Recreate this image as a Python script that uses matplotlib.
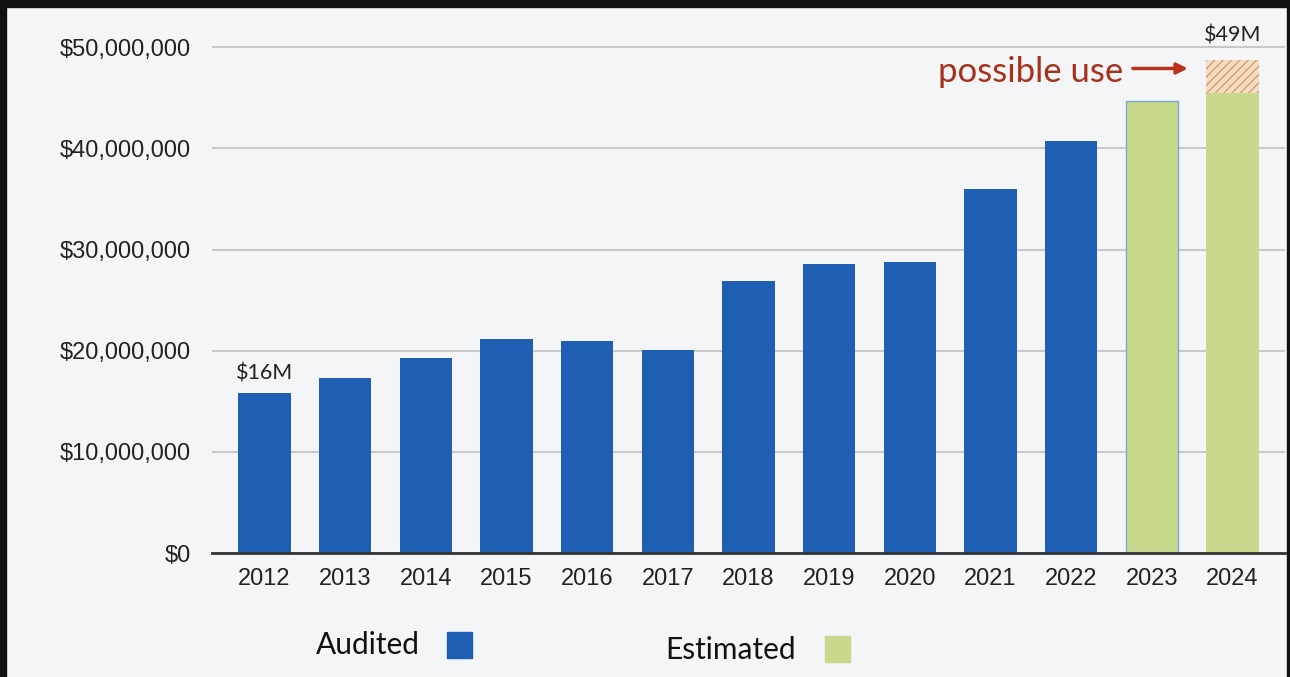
import numpy as np
from matplotlib import pyplot as plt
from matplotlib.patches import Rectangle

# data
years = ['2012', '2013', '2014', '2015', '2016', '2017', '2018',
         '2019', '2020', '2021', '2022', '2023', '2024']
audited = [15.8e6, 17.3e6, 19.3e6, 21.2e6, 21.0e6, 20.1e6, 26.9e6,
           28.6e6, 28.8e6, 36.0e6, 40.7e6, 0, 0]
estimated = [0, 0, 0, 0, 0, 0, 0, 0, 0, 0, 0, 44.7e6, 45.5e6]
possible = [0, 0, 0, 0, 0, 0, 0, 0, 0, 0, 0, 0, 3.2e6]
yticks = [0, 10e6, 20e6, 30e6, 40e6, 50e6]

blue = '#1f5fb3'
green = '#c6d98c'
bg = '#f3f5f7'

fig = plt.figure(figsize=(12.9, 6.77), dpi=100, facecolor=bg)
ax = fig.add_axes([212/1290, 124/677, 1073/1290, 526/677])
ax.set_facecolor(bg)

x = np.arange(len(years))
ax.bar(x, audited, width=0.65, color=blue, zorder=3)
ax.bar(x, estimated, width=0.65, color=green, zorder=3)
plt.rcParams['hatch.linewidth'] = 0.8
ax.bar(x, possible, width=0.65, bottom=estimated, facecolor='#f2dcc4',
       edgecolor='#d89050', hatch='////', linewidth=0, zorder=3)
# thin blue rim on the 2023 estimate
ax.bar(x[11], estimated[11], width=0.65, facecolor='none',
       edgecolor='#7fa5db', linewidth=1.0, zorder=4)

ax.set_xlim(-0.65, len(years) - 0.35)
ax.set_ylim(0, 52e6)
ax.set_yticks(yticks)
ax.set_yticklabels(['${:,.0f}'.format(v) for v in yticks])
ax.set_xticks(x)
ax.set_xticklabels(years)
ax.tick_params(length=0, labelsize=17, labelcolor='#222222')
ax.tick_params(axis='y', pad=15)
ax.tick_params(axis='x', pad=11)
for lab in ax.get_xticklabels() + ax.get_yticklabels():
    lab.set_family('Liberation Sans')

ax.grid(axis='y', color='#c6c8ca', linewidth=1.5, zorder=0)
for s in ['top', 'right', 'left']:
    ax.spines[s].set_visible(False)
ax.spines['bottom'].set_color('#333333')
ax.spines['bottom'].set_linewidth(2)
ax.spines['bottom'].set_zorder(5)

# labels on the bars
ax.annotate('$16M', (x[0], audited[0]), xytext=(0, 7), textcoords='offset points',
            ha='center', va='bottom', fontsize=15.5, family='Lato', color='#222222')
ax.annotate('$49M', (x[12], estimated[12] + possible[12]), xytext=(0, 11),
            textcoords='offset points', ha='center', va='bottom', fontsize=15.5,
            family='Lato', color='#222222')
ax.annotate('', xy=(x[12] - 0.52, 47.9e6), xytext=(x[12] - 1.27, 47.9e6),
            arrowprops=dict(arrowstyle='-|>', color='#b8321e', lw=2.5,
                            mutation_scale=16))
ax.text(x[12] - 1.36, 47.6e6, 'possible use', ha='right', va='center',
        fontsize=25, family='Lato', color='#a8301c')

# legend drawn as text + squares
fig.text(316/1290, 1 - 645/677, 'Audited', ha='left', va='center',
         fontsize=21.5, family='Lato', color='#111111')
fig.patches.append(Rectangle((447/1290, 1 - 658/677), 25/1290, 26/677,
                             transform=fig.transFigure, color=blue))
fig.text(665/1290, 1 - 650/677, 'Estimated', ha='left', va='center',
         fontsize=21.5, family='Lato', color='#111111')
fig.patches.append(Rectangle((825/1290, 1 - 662/677), 25/1290, 26/677,
                             transform=fig.transFigure, color=green))

# dark scan border
fig.patches.append(Rectangle((0, 1 - 7/677), 1, 7/677, transform=fig.transFigure,
                             color='#111111'))
fig.patches.append(Rectangle((0, 0), 6/1290, 1, transform=fig.transFigure,
                             color='#111111'))
fig.patches.append(Rectangle((1 - 3/1290, 0), 3/1290, 1, transform=fig.transFigure,
                             color='#111111'))

fig.savefig('out.png', dpi=100, facecolor=bg)
